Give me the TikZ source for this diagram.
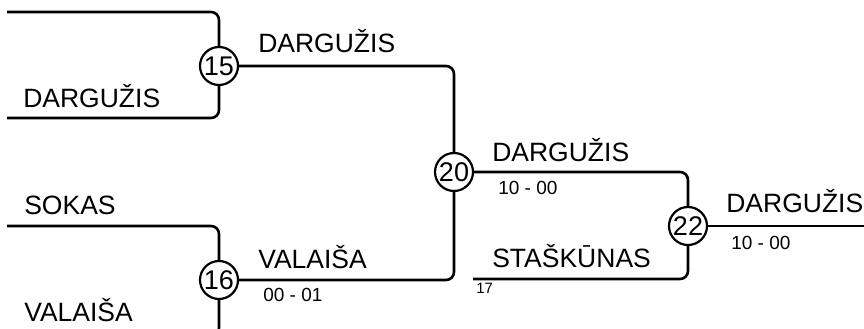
\documentclass[tikz,border=0pt]{standalone}
\usepackage{fontspec}
\setmainfont{Liberation Sans}
\usepackage{tikz}

\begin{document}
\begin{tikzpicture}[x=1pt,y=1pt,line width=2.6pt,
  match/.style={draw,circle,fill=white,line width=2.2pt,inner sep=0pt,minimum size=38pt,font=\fontsize{27}{27}\selectfont},
  player/.style={anchor=base west,inner sep=0pt,font=\fontsize{26.5}{26.5}\selectfont},
  score/.style={anchor=north west,inner sep=0pt,font=\fontsize{19}{19}\selectfont},
  link/.style={rounded corners=8pt}]
			\useasboundingbox (0,0) rectangle (864,329);
			\clip (0,0) rectangle (864,329);
			% matches
			\node[match] (m15) at (219,263) {15};
			\node[match] (m16) at (219,49) {16};
			\node[match] (m20) at (454,157) {20};
			\node[match] (m22) at (688,103) {22};
			% free ends
			\coordinate (a1) at (7,317);
			\coordinate (a2) at (7,211);
			\coordinate (b1) at (7,103);
			\coordinate (b2) at (7,-7);
			\coordinate (c2) at (473,50);
			\coordinate (w) at (864,103);
			% brackets
			\draw[link] (a1) -- (a1 -| m15) -- (m15.north);
			\draw[link] (a2) -- (a2 -| m15) -- (m15.south);
			\draw[link] (b1) -- (b1 -| m16) -- (m16.north);
			\draw[link] (b2) -- (b2 -| m16) -- (m16.south);
			\draw[link] (m15.east) -- (m15 -| m20) -- (m20.north);
			\draw[link] (m16.east) -- (m16 -| m20) -- (m20.south);
			\draw[link] (m20.east) -- (m20 -| m22) -- (m22.north);
			\draw[link] (c2) -- (c2 -| m22) -- (m22.south);
			\draw (m22.east) -- (w);
			% names
			\node[player] (n1) at (22,221) {DARGUŽIS};
			\node[player] (n2) at (23,114) {SOKAS};
			\node[player] (n3) at (23,7) {VALAIŠA};
			\node[player] (n4) at (257,276) {DARGUŽIS};
			\node[player] (n5) at (257,60) {VALAIŠA};
			\node[player] (n6) at (491,167) {DARGUŽIS};
			\node[player] (n7) at (491,61) {STAŠKŪNAS};
			\node[player] (n8) at (725,116) {DARGUŽIS};
			% scores
			\node[score] (s1) at (262,42) {00 - 01};
			\node[score] (s2) at (497,149) {10 - 00};
			\node[score] (s3) at (730,94) {10 - 00};
			\node[score,font=\fontsize{15}{15}\selectfont] (s4) at (475,47) {17};
		\end{tikzpicture}
\end{document}
